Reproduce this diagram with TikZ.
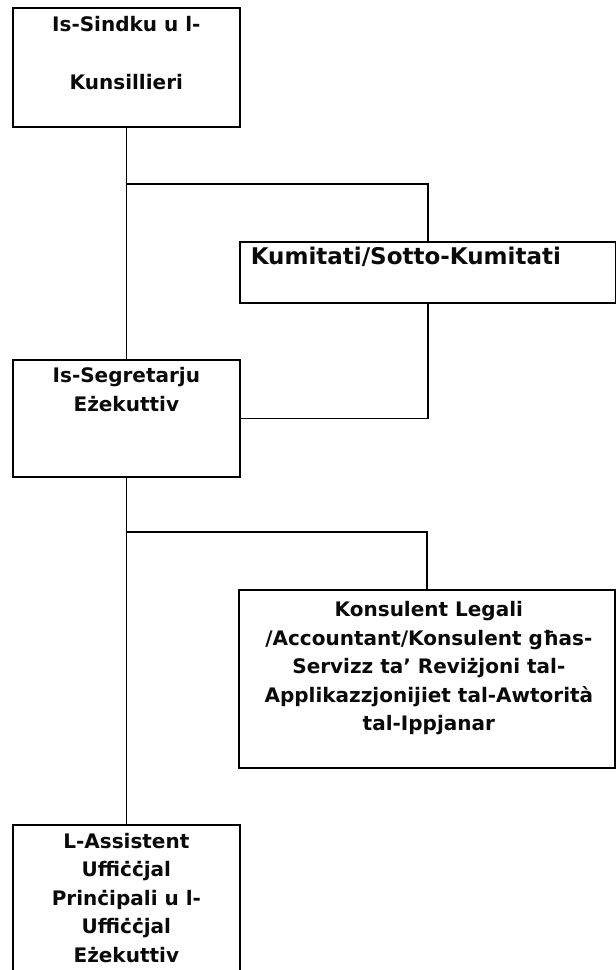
\documentclass[tikz,border=0pt]{standalone}
\usepackage{fontspec}
\setmainfont{DejaVu Sans}
\usepackage{xcolor}
\definecolor{BoxLine}{RGB}{0,0,0}
\definecolor{BoxText}{RGB}{10,10,10}
\usepackage{tikz}
\tikzset{
    orgbox/.style={
        draw=BoxLine,
        line width=1.7pt,
        anchor=north west,
        inner sep=0pt
    },
    boxtext/.style={
        anchor=north,
        align=center,
        inner sep=0pt,
        text=BoxText,
        font=\bfseries\fontsize{20}{28.5}\selectfont
    },
    link/.style={
        draw=BoxLine,
        line width=1.7pt
    }
}

\begin{document}
\begin{tikzpicture}[x=1pt,y=-1pt]
%
    \useasboundingbox
    (0,0)
    rectangle
    (616,970);
%
    % left column
%
    \node[
        orgbox,
        minimum width=227pt,
        minimum height=119pt,
        label={[boxtext,yshift=-9.5pt]north:Is-Sindku u l-\\[29pt]Kunsillieri}
    ]
    (sindku) at (12,7) {};
%
    \node[
        orgbox,
        minimum width=227pt,
        minimum height=117pt,
        label={[boxtext,yshift=-8.5pt]north:Is-Segretarju\\Eżekuttiv}
    ]
    (segretarju) at (12,359) {};
%
    \node[
        orgbox,
        minimum width=227pt,
        minimum height=170pt,
        label={[boxtext,yshift=-9pt]north:L-Assistent\\Uffiċċjal\\Prinċipali u l-\\Uffiċċjal\\Eżekuttiv}
    ]
    (assistent) at (12,824) {};
%
    % right column
%
    \node[
        orgbox,
        minimum width=376pt,
        minimum height=61pt,
        label={[boxtext,font=\bfseries\fontsize{23}{28.5}\selectfont,yshift=-6pt,xshift=-22pt]north:Kumitati/Sotto-Kumitati}
    ]
    (kumitati) at (239,241) {};
%
    \node[
        orgbox,
        minimum width=376pt,
        minimum height=178pt,
        label={[boxtext,yshift=-12.5pt,xshift=2pt]north:Konsulent Legali\\/Accountant/Konsulent għas-\\Servizz ta’ Reviżjoni tal-\\Applikazzjonijiet tal-Awtorità\\tal-Ippjanar}
    ]
    (konsulent) at (238,589) {};
%
    % connectors
%
    \coordinate (fork1) at (125.5,184);
    \coordinate (fork2) at (125.5,532);
%
    \draw[link]
    (sindku.south)
    --
    (segretarju.north);
%
    \draw[link]
    (fork1)
    -|
    (kumitati.north);
%
    \draw[link]
    (kumitati.south)
    |-
    (segretarju.east);
%
    \draw[link]
    (segretarju.south)
    --
    (assistent.north);
%
    \draw[link]
    (fork2)
    -|
    (konsulent.north);
%
\end{tikzpicture}
\end{document}
